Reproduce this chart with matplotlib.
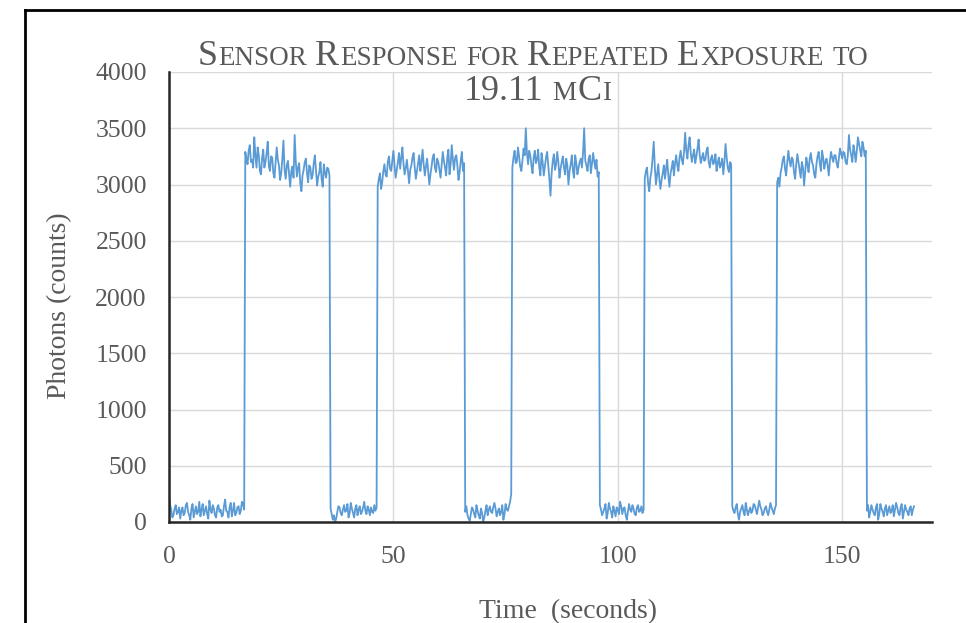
import numpy as np
import matplotlib
matplotlib.use('Agg')
import matplotlib.pyplot as plt
from matplotlib.lines import Line2D

# photon counts, one sample every 0.25 s
# off stretches (background) and on stretches (source exposed)
base_0 = [240, 150, 110, 40, 60, 120, 150, 70, 90, 130,
          30, 100, 130, 60, 80, 150, 170, 90, 60, 20,
          120, 160, 40, 90, 140, 70, 90, 180, 50, 110,
          160, 60, 100, 140, 70, 30, 190, 110, 80, 150,
          120, 60, 40, 130, 150, 90, 110, 50, 60, 140,
          200, 100, 90, 40, 130, 170, 50, 100, 170, 60,
          80, 130, 140, 70, 100, 180, 160, 110]
pulse_1 = [3290, 3230, 3180, 3300, 3350, 3200, 3220, 3150, 3420, 3260,
           3150, 3330, 3260, 3120, 3090, 3240, 3310, 3150, 3200, 3280,
           3380, 3160, 3120, 3250, 3240, 3100, 3060, 3190, 3330, 3220,
           3170, 3040, 3100, 3230, 3390, 3130, 3050, 3170, 3210, 3090,
           2980, 3120, 3160, 3060, 3440, 3200, 3070, 3150, 3190, 3010,
           2940, 3080, 3130, 3200, 3230, 3100, 3020, 3170, 3150, 3050,
           3080, 3190, 3260, 3120, 2990, 3070, 3110, 3200, 3050, 2980,
           3180, 3100, 3060, 3150, 3140, 3080]
base_1 = [120, 70, 20, 60, 0, 30, 90, 140, 130, 80,
          60, 110, 150, 90, 100, 160, 40, 80, 170, 120,
          80, 40, 120, 150, 60, 110, 140, 70, 90, 130,
          180, 100, 70, 140, 110, 60, 130, 90, 80, 150,
          100, 130]
pulse_2 = [2980, 3050, 3100, 2960, 3020, 3120, 3180, 3090, 3070, 3200,
           3250, 3140, 3120, 3210, 3300, 3170, 3060, 3130, 3200, 3280,
           3140, 3240, 3330, 3180, 3090, 3150, 3220, 3110, 3010, 3130,
           3170, 3240, 3280, 3150, 3050, 3120, 3190, 3260, 3120, 3200,
           3310, 3180, 3080, 3160, 3230, 3120, 3000, 3090, 3160, 3240,
           3270, 3150, 3110, 3230, 3200, 3130, 3060, 3170, 3290, 3210,
           3150, 3080, 3240, 3310, 3090, 3180, 3350, 3220, 3130, 3240,
           3260, 3170, 3040, 3110, 3210, 3290, 3120, 3190]
base_2 = [90, 140, 60, 30, 10, 70, 130, 110, 70, 40,
          150, 100, 60, 30, 120, 80, 0, 40, 100, 150,
          60, 110, 140, 90, 80, 130, 170, 120, 50, 90,
          120, 60, 90, 150, 20, 70, 160, 110, 100, 140,
          180, 250]
pulse_3 = [3150, 3240, 3300, 3190, 3200, 3330, 3250, 3160, 3120, 3210,
           3320, 3260, 3500, 3280, 3180, 3300, 3260, 3170, 3100, 3240,
           3300, 3190, 3220, 3310, 3150, 3080, 3280, 3200, 3080, 3160,
           3240, 3290, 3170, 3050, 2900, 3100, 3210, 3270, 3130, 3180,
           3290, 3200, 3060, 3140, 3200, 3250, 3150, 3090, 3230, 3170,
           3000, 3120, 3180, 3260, 3120, 3060, 3260, 3190, 3090, 3150,
           3200, 3230, 3150, 3280, 3500, 3210, 3170, 3120, 3230, 3260,
           3100, 3190, 3280, 3200, 3140, 3220, 3070, 3110]
base_3 = [150, 110, 60, 90, 120, 160, 30, 80, 170, 120,
          90, 40, 140, 100, 50, 130, 110, 70, 180, 140,
          70, 120, 130, 60, 20, 90, 160, 110, 90, 150,
          120, 70, 60, 130, 150, 90, 100, 140, 80, 110]
pulse_4 = [3050, 3120, 3150, 3010, 2940, 3060, 3120, 3240, 3380, 3150,
           3000, 3090, 3180, 3050, 2960, 3040, 3100, 3170, 3050, 3140,
           3220, 3080, 2980, 3100, 3150, 3210, 3080, 3190, 3260, 3170,
           3120, 3240, 3300, 3220, 3180, 3290, 3460, 3300, 3230, 3350,
           3420, 3280, 3200, 3260, 3310, 3190, 3250, 3320, 3400, 3260,
           3190, 3240, 3280, 3210, 3220, 3300, 3330, 3200, 3150, 3230,
           3260, 3180, 3200, 3270, 3120, 3190, 3240, 3150, 3180, 3230,
           3090, 3200, 3360, 3240, 3150, 3110, 3200, 3180]
base_4 = [140, 100, 80, 130, 160, 70, 20, 90, 120, 150,
          90, 60, 170, 110, 60, 100, 130, 80, 100, 160,
          150, 110, 70, 130, 190, 140, 110, 60, 80, 120,
          140, 90, 60, 110, 170, 130, 100, 70, 120, 150]
pulse_5 = [3020, 3060, 2980, 3100, 3150, 3220, 3250, 3140, 3080, 3200,
           3300, 3210, 3160, 3240, 3220, 3110, 3050, 3180, 3270, 3200,
           3130, 3060, 3200, 3150, 2990, 3120, 3240, 3180, 3110, 3230,
           3280, 3200, 3170, 3090, 3060, 3180, 3250, 3290, 3190, 3120,
           3300, 3240, 3140, 3200, 3230, 3170, 3080, 3210, 3290, 3240,
           3200, 3260, 3260, 3190, 3150, 3230, 3320, 3280, 3230, 3290,
           3280, 3200, 3180, 3260, 3440, 3310, 3260, 3200, 3350, 3290,
           3200, 3300, 3420, 3360, 3300, 3250, 3380, 3330, 3250, 3300]
base_5 = [100, 150, 40, 90, 150, 110, 80, 60, 130, 160,
          20, 70, 160, 120, 90, 50, 120, 150, 60, 100,
          140, 80, 100, 150, 50, 110, 170, 130, 80, 60,
          130, 160, 30, 90, 150, 110, 90, 60, 120, 140,
          60, 110, 140]

sample_step = 0.25  # seconds between readings
photons = np.concatenate([base_0, pulse_1, base_1, pulse_2, base_2, pulse_3,
                          base_3, pulse_4, base_4, pulse_5, base_5])
seconds = np.arange(len(photons)) * sample_step

x_ticks = [0, 50, 100, 150]
y_ticks = [0, 500, 1000, 1500, 2000, 2500, 3000, 3500, 4000]

plt.rcParams['font.family'] = ['Liberation Serif', 'DejaVu Serif']
grey = '#595959'
W, H = 966, 623

fig = plt.figure(figsize=(W / 100, H / 100), dpi=100)
ax = fig.add_axes([169 / W, 101 / H, 763 / W, 450 / H])
ax.plot(seconds, photons, color='#5B9BD5', linewidth=1.3)

ax.set_xlim(0, 170)
ax.set_ylim(0, 4000)
ax.set_xticks(x_ticks)
ax.set_yticks(y_ticks)
ax.tick_params(length=0, labelsize=18.5, labelcolor=grey)
ax.tick_params(axis='y', pad=16)
ax.tick_params(axis='x', pad=17)
ax.grid(color='#d9d9d9', linewidth=1)
ax.set_axisbelow(True)
for side in ['top', 'right']:
    ax.spines[side].set_visible(False)
for side in ['left', 'bottom']:
    ax.spines[side].set_color('#262626')
    ax.spines[side].set_linewidth(1.8)

# axis titles
fig.text(60 / W, 1 - 306 / H, 'Photons (counts)', rotation=90, ha='center', va='center',
         fontsize=20, color=grey)
fig.text(568 / W, 1 - 618 / H, 'Time  (seconds)', ha='center', va='baseline',
         fontsize=20, color=grey)

# small-caps title, built piece by piece
BIG, SMALL = 26, 19.5
renderer = fig.canvas.get_renderer()


def title_line(words, baseline_px, centre_px):
    gap = 0.28 * SMALL * 100 / 72
    placed = []
    x = 0.0
    for word in words:
        for piece, size in word:
            t = fig.text(0, 0, piece, fontsize=size, color=grey, ha='left', va='baseline')
            placed.append((t, x))
            x += t.get_window_extent(renderer).width + 0.8
        x += gap
    x -= gap
    start = centre_px - x / 2
    for t, dx in placed:
        t.set_position(((start + dx) / W, 1 - baseline_px / H))


title_line([[('S', BIG), ('ENSOR', SMALL)], [('R', BIG), ('ESPONSE', SMALL)],
            [('FOR', SMALL)], [('R', BIG), ('EPEATED', SMALL)],
            [('E', BIG), ('XPOSURE', SMALL)], [('TO', SMALL)]], 65, 533)
title_line([[('19.11', BIG)], [('M', SMALL), ('C', BIG), ('I', SMALL)]], 100, 538)

# outer frame of the pasted chart
fig.add_artist(Line2D([25 / W, 25 / W], [0, 1 - 10 / H], color='black', linewidth=2,
                      transform=fig.transFigure))
fig.add_artist(Line2D([25 / W, 1], [1 - 10 / H, 1 - 10 / H], color='black', linewidth=2,
                      transform=fig.transFigure))

fig.savefig('out.png', dpi=100)
